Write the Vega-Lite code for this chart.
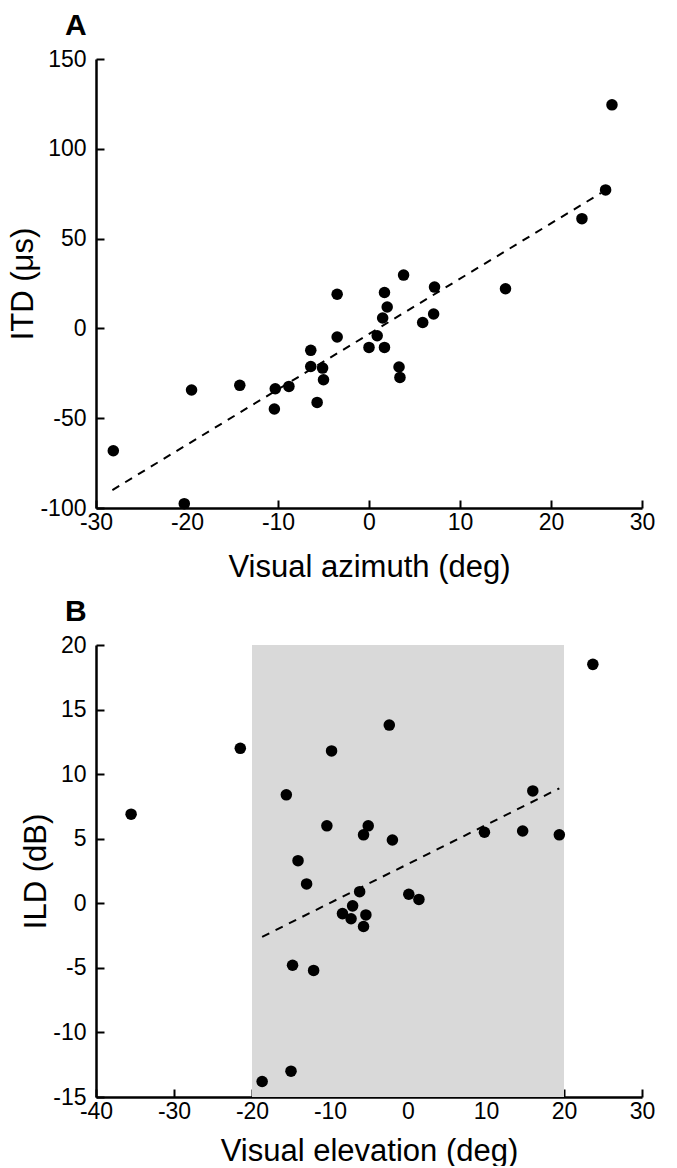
{
  "$schema": "https://vega.github.io/schema/vega-lite/v6.json",
  "background": "white",
  "padding": {"left": 7, "top": 11, "right": 20, "bottom": 0},
  "spacing": 15,
  "config": {
    "font": "Liberation Sans",
    "view": {"stroke": null},
    "axis": {
      "grid": false,
      "zindex": 1,
      "ticks": true,
      "domainColor": "black",
      "domainWidth": 2.5,
      "tickColor": "black",
      "tickWidth": 2,
      "tickSize": -8,
      "labelFontSize": 23,
      "labelColor": "black",
      "labelFlush": false,
      "labelOverlap": false,
      "labelExpr": "replace(datum.label, '−', '-')",
      "titleFontSize": 31,
      "titleFontWeight": "normal",
      "titleColor": "black"
    },
    "axisX": {"labelPadding": 11, "titlePadding": 18},
    "axisY": {"labelPadding": 18, "titlePadding": 0},
    "title": {"fontSize": 30, "fontWeight": "bold", "anchor": "start", "frame": "group", "dx": -31, "offset": 7, "color": "black"}
  },
  "datasets": {
    "ptsA": [
      {"x": -28.1, "y": -68.1}, {"x": -20.3, "y": -97.6}, {"x": -19.5, "y": -34.3}, {"x": -14.2, "y": -31.7},
      {"x": -10.3, "y": -33.6}, {"x": -10.4, "y": -44.9}, {"x": -8.8, "y": -32.3}, {"x": -6.4, "y": -12.2},
      {"x": -6.4, "y": -21.2}, {"x": -5.1, "y": -22.1}, {"x": -5.0, "y": -28.6}, {"x": -5.7, "y": -41.2},
      {"x": -3.5, "y": 19.0}, {"x": -3.5, "y": -4.8}, {"x": 0.0, "y": -10.6}, {"x": 0.9, "y": -4.1},
      {"x": 1.5, "y": 5.8}, {"x": 1.7, "y": -10.6}, {"x": 1.7, "y": 20.0}, {"x": 2.0, "y": 11.9},
      {"x": 3.3, "y": -21.5}, {"x": 3.4, "y": -27.3}, {"x": 3.8, "y": 29.7}, {"x": 5.9, "y": 3.3},
      {"x": 7.1, "y": 8.0}, {"x": 7.2, "y": 23.0}, {"x": 15.0, "y": 22.1}, {"x": 23.4, "y": 61.1},
      {"x": 26.0, "y": 77.1}, {"x": 26.7, "y": 124.5}
    ],
    "lineA": [{"x": -28.2, "y": -90.0}, {"x": 25.5, "y": 75.4}],
    "ptsB": [
      {"x": -35.5, "y": 6.9}, {"x": -21.5, "y": 12.0}, {"x": -18.7, "y": -13.8}, {"x": -15.6, "y": 8.4},
      {"x": -15.0, "y": -13.0}, {"x": -14.8, "y": -4.8}, {"x": -14.1, "y": 3.3}, {"x": -13.0, "y": 1.5},
      {"x": -12.1, "y": -5.2}, {"x": -10.4, "y": 6.0}, {"x": -9.8, "y": 11.8}, {"x": -8.4, "y": -0.8},
      {"x": -7.3, "y": -1.2}, {"x": -7.1, "y": -0.2}, {"x": -6.2, "y": 0.9}, {"x": -5.7, "y": 5.3},
      {"x": -5.7, "y": -1.8}, {"x": -5.4, "y": -0.9}, {"x": -5.1, "y": 6.0}, {"x": -2.4, "y": 13.8},
      {"x": -2.0, "y": 4.9}, {"x": 0.1, "y": 0.7}, {"x": 1.4, "y": 0.3}, {"x": 9.8, "y": 5.5},
      {"x": 14.7, "y": 5.6}, {"x": 16.0, "y": 8.7}, {"x": 19.4, "y": 5.3}, {"x": 23.7, "y": 18.5}
    ],
    "lineB": [{"x": -18.7, "y": -2.6}, {"x": 19.4, "y": 8.9}],
    "bandB": [{"x": -20, "x2": 20, "y": -15, "y2": 20}]
  },
  "vconcat": [
    {
      "title": {"text": "A"},
      "width": 546,
      "height": 449,
      "encoding": {
        "x": {"field": "x", "type": "quantitative", "scale": {"domain": [-30, 30], "nice": false, "zero": false},
              "axis": {"values": [-30, -20, -10, 0, 10, 20, 30], "title": "Visual azimuth (deg)"}},
        "y": {"field": "y", "type": "quantitative", "scale": {"domain": [-100, 150], "nice": false, "zero": false},
              "axis": {"values": [-100, -50, 0, 50, 100, 150], "title": "ITD (μs)"}}
      },
      "layer": [
        {"data": {"name": "lineA"}, "mark": {"type": "line", "strokeDash": [8, 7], "strokeWidth": 2, "color": "black"}, "encoding": {}},
        {"data": {"name": "ptsA"}, "mark": {"type": "circle", "size": 133, "color": "black", "opacity": 1}}
      ]
    },
    {
      "title": {"text": "B"},
      "width": 546,
      "height": 452,
      "encoding": {
        "x": {"field": "x", "type": "quantitative", "scale": {"domain": [-40, 30], "nice": false, "zero": false},
              "axis": {"values": [-40, -30, -20, -10, 0, 10, 20, 30], "title": "Visual elevation (deg)", "titlePadding": 13}},
        "y": {"field": "y", "type": "quantitative", "scale": {"domain": [-15, 20], "nice": false, "zero": false},
              "axis": {"values": [-15, -10, -5, 0, 5, 10, 15, 20], "title": "ILD (dB)"}}
      },
      "layer": [
        {"data": {"name": "bandB"}, "mark": {"type": "rect", "color": "#d9d9d9"}, "encoding": {"x2": {"field": "x2"}, "y2": {"field": "y2"}}},
        {"data": {"name": "lineB"}, "mark": {"type": "line", "strokeDash": [8, 7], "strokeWidth": 2, "color": "black"}, "encoding": {}},
        {"data": {"name": "ptsB"}, "mark": {"type": "circle", "size": 133, "color": "black", "opacity": 1}}
      ]
    }
  ]
}
